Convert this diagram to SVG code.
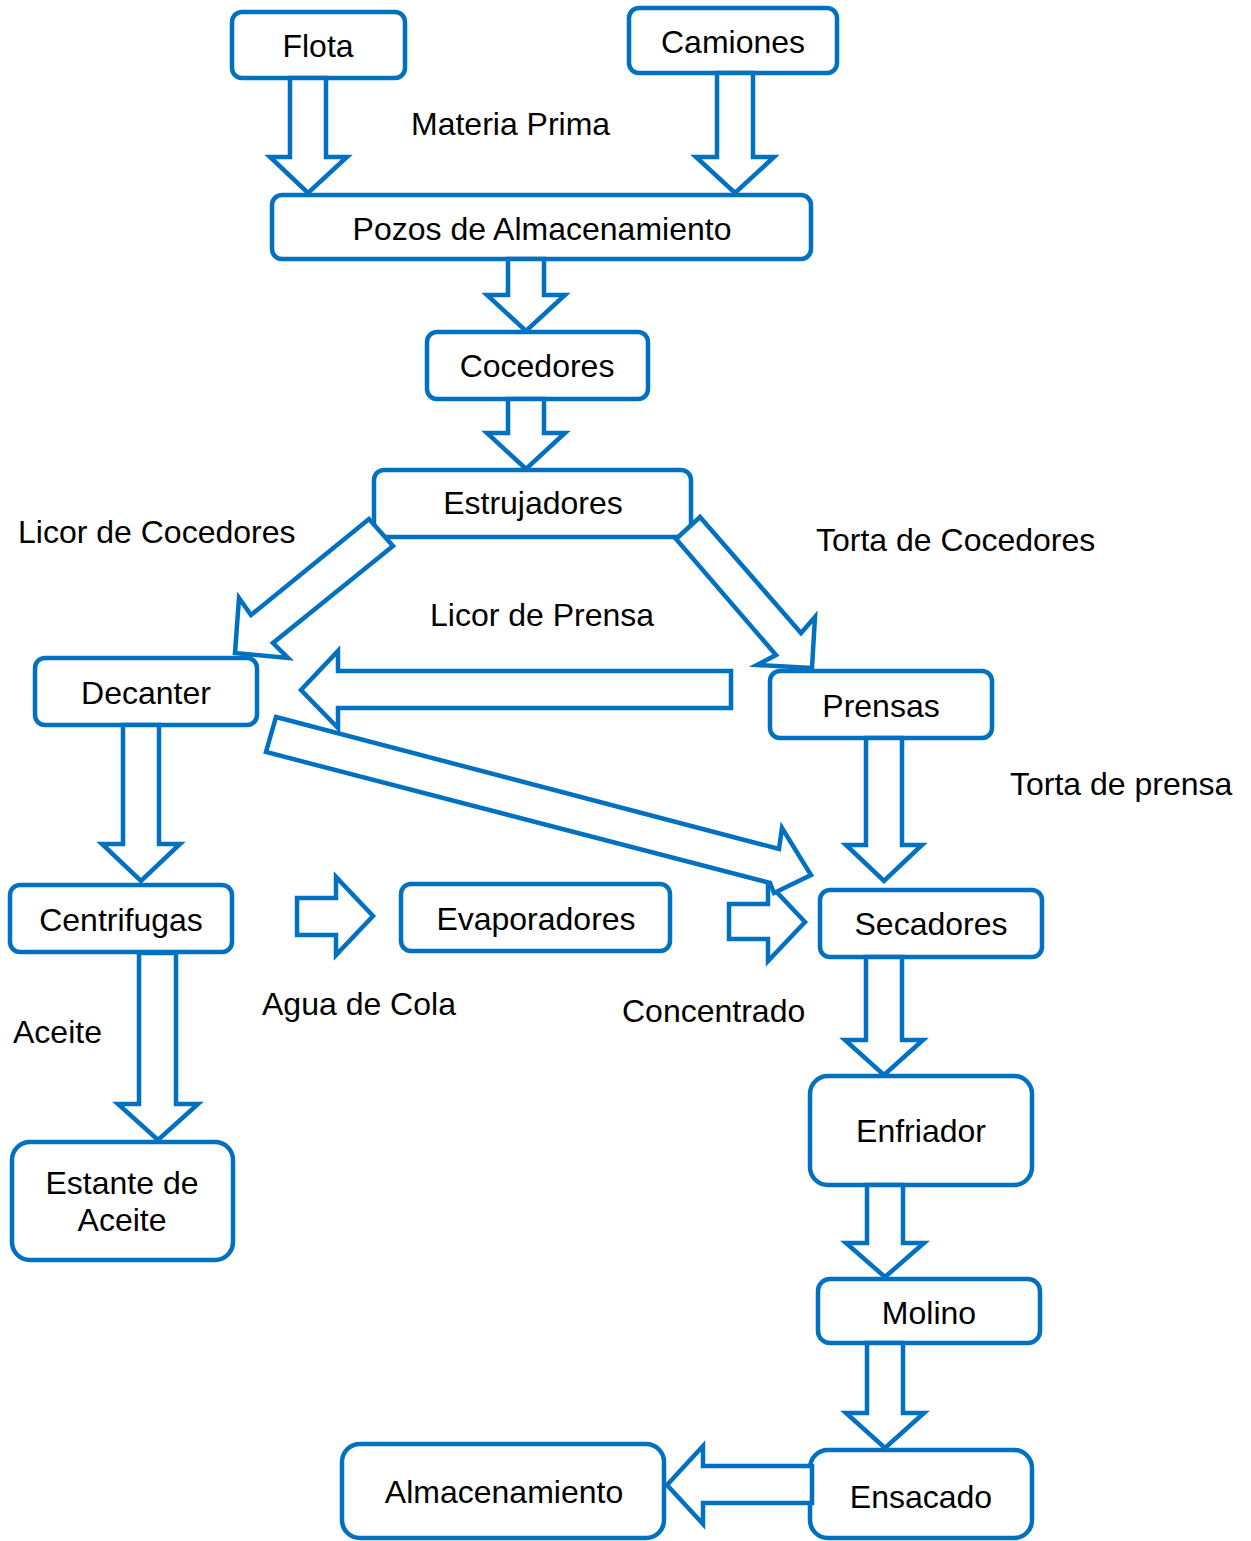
<svg xmlns="http://www.w3.org/2000/svg" width="1251" height="1541" viewBox="0 0 1251 1541">
<style>
.box{fill:#fff;stroke:#0070C0;stroke-width:4.5}
.arr{fill:#fff;stroke:#0070C0;stroke-width:4.5;stroke-linejoin:miter}
text{font-family:"Liberation Sans",Arial,sans-serif;font-size:32px;fill:#000}
.c{text-anchor:middle}
</style>
<rect width="1251" height="1541" fill="#fff"/>
<g id="flota"><rect class="box" x="232" y="12" width="173" height="66" rx="10"/><text class="c" x="318" y="57">Flota</text></g>
<g id="camiones"><rect class="box" x="629" y="8" width="208" height="65" rx="10"/><text class="c" x="733" y="53">Camiones</text></g>
<g id="pozos"><rect class="box" x="272" y="195" width="539" height="64" rx="10"/><text class="c" x="542" y="240">Pozos de Almacenamiento</text></g>
<g id="cocedores"><rect class="box" x="427" y="332" width="221" height="67" rx="10"/><text class="c" x="537" y="377">Cocedores</text></g>
<g id="estrujadores"><rect class="box" x="374" y="470" width="317" height="67" rx="10"/><text class="c" x="533" y="514">Estrujadores</text></g>
<g id="decanter"><rect class="box" x="35" y="658" width="222" height="67" rx="10"/><text class="c" x="146" y="704">Decanter</text></g>
<g id="prensas"><rect class="box" x="770" y="671" width="222" height="67" rx="10"/><text class="c" x="881" y="717">Prensas</text></g>
<g id="centrifugas"><rect class="box" x="10" y="885" width="222" height="67" rx="10"/><text class="c" x="121" y="931">Centrifugas</text></g>
<g id="evaporadores"><rect class="box" x="401" y="884" width="269" height="67" rx="10"/><text class="c" x="536" y="930">Evaporadores</text></g>
<g id="secadores"><rect class="box" x="820" y="890" width="222" height="67" rx="10"/><text class="c" x="931" y="935">Secadores</text></g>
<g id="enfriador"><rect class="box" x="810" y="1076" width="222" height="109" rx="18"/><text class="c" x="921" y="1142">Enfriador</text></g>
<g id="estante"><rect class="box" x="12" y="1142" width="221" height="118" rx="18"/><text class="c" x="122" y="1194">Estante de</text><text class="c" x="122" y="1231">Aceite</text></g>
<g id="molino"><rect class="box" x="818" y="1279" width="222" height="64" rx="12"/><text class="c" x="929" y="1324">Molino</text></g>
<g id="almacenamiento"><rect class="box" x="342" y="1444" width="322" height="94" rx="18"/><text class="c" x="504" y="1503">Almacenamiento</text></g>
<g id="ensacado"><rect class="box" x="810" y="1450" width="222" height="88" rx="18"/><text class="c" x="921" y="1508">Ensacado</text></g>
<g id="connectors">
<polygon class="arr" points="290,78 326,78 326,157 347,157 308,193 270,157 290,157"/>
<polygon class="arr" points="717,73 753,73 753,157 774,157 735,193 696,157 717,157"/>
<polygon class="arr" points="508,259 544,259 544,295 565,295 526,331 487,295 508,295"/>
<polygon class="arr" points="508,399 544,399 544,433 565,433 526,469 487,433 508,433"/>
<polygon class="arr" points="369,519 251,615 239,598 235,653 288,658 273,643 393,546"/>
<polygon class="arr" points="700,517 801,633 815,617 812,668 757,665 776,655 676,539"/>
<polygon class="arr" points="731,671 338,671 338,651 301,690 338,728 338,708 731,708"/>
<polygon class="arr" points="123,725 159,725 159,844 180,844 141,881 102,844 123,844"/>
<polygon class="arr" points="866,738 902,738 902,845 922,845 884,881 846,845 866,845"/>
<polygon class="arr" points="297,898 336,898 336,877 373,916 336,955 336,935 297,935"/>
<polygon class="arr" points="729,904 768,904 768,883 805,922 768,961 768,939 729,939"/>
<polygon class="arr" points="276,717 779,849 782,828 811,875 774,893 770,883 266,752"/>
<polygon class="arr" points="139,953 176,953 176,1104 198,1104 158,1140 118,1104 139,1104"/>
<polygon class="arr" points="866,957 902,957 902,1040 923,1040 884,1075 845,1040 866,1040"/>
<polygon class="arr" points="867,1185 903,1185 903,1243 924,1243 885,1277 846,1243 867,1243"/>
<polygon class="arr" points="867,1343 903,1343 903,1413 924,1413 885,1448 846,1413 867,1413"/>
<polygon class="arr" points="812,1466 703,1466 703,1446 667,1485 703,1524 703,1503 812,1503"/>
</g>
<g id="labels">
<text x="411" y="135">Materia Prima</text>
<text x="18" y="543">Licor de Cocedores</text>
<text x="816" y="551">Torta de Cocedores</text>
<text x="430" y="626">Licor de Prensa</text>
<text x="1010" y="795">Torta de prensa</text>
<text x="262" y="1015">Agua de Cola</text>
<text x="622" y="1022">Concentrado</text>
<text x="13" y="1043">Aceite</text>
</g>
</svg>
